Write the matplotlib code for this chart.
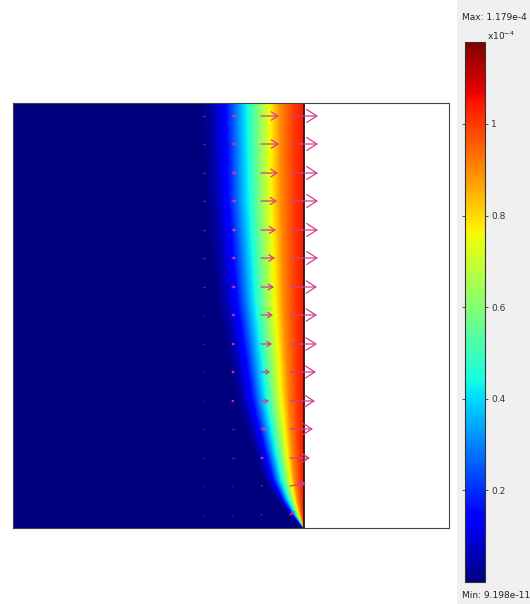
import numpy as np
import matplotlib
matplotlib.use('Agg')
import matplotlib.pyplot as plt
from matplotlib.patches import FancyArrowPatch, Rectangle
from matplotlib.colors import Normalize
from matplotlib.cm import ScalarMappable

# ---------------- data ----------------
c_min_label = "Min: 9.198e-11"
c_max_label = "Max: 1.179e-4"
c_scale_label = "x10$^{-4}$"
c_vmin = 9.198e-11 * 1e4
c_vmax = 1.179
cbar_ticks = [0.2, 0.4, 0.6, 0.8, 1.0]
cbar_ticklabels = ["0.2", "0.4", "0.6", "0.8", "1"]

# domain sizes (plot units)
domain_width = 291.0
box_width = 436.0
box_height = 425.0

# distance of the 0.45 contour from the right wall at several heights
front_height = [0, 13, 28, 48, 78, 128, 228, 328, 425]
front_dist = [0.5, 8, 15, 22, 28, 37, 48, 54, 56]

# concentration profile vs normalized wall distance
profile_eta = [0.0, 0.15, 0.42, 0.58, 1.0, 1.4, 1.65, 1.85, 10.0]
profile_c = [1.04, 1.01, 0.90, 0.78, 0.45, 0.15, 0.04, 0.0, 0.0]

# velocity arrows: columns (x of tail) and rows (height of tail)
arrow_cols = [190, 219, 248, 277]
arrow_rows = [412, 384, 355, 327, 298, 270, 241, 213, 184, 156, 127, 99, 70, 42, 13]
u_col0 = [1.5, 1.5, 1.5, 1.5, 1.5, 1.5, 1.5, 1.2, 1.2, 1.0, 1.0, 1.0, 0.8, 0.6, 0.5]
u_col1 = [5, 5, 5, 4.5, 4.5, 4, 4, 3.5, 3, 3, 2.5, 2, 1.5, 1, 0.8]
u_col2 = [18, 18, 17, 16, 15, 14, 13, 12, 11, 9, 8, 6, 3, 1.5, 1]
u_col3 = [28, 28, 28, 28, 28, 28, 27, 27, 27, 26, 25, 23, 20, 16, 5]
v_col0 = [0] * 15
v_col1 = [0] * 15
v_col2 = [0] * 13 + [0.5, 0.5]
v_col3 = [0] * 13 + [3, 4]
arrow_color = "#d63c8f"

# ---------------- figure ----------------
W, H = 530, 604
fig = plt.figure(figsize=(W / 100, H / 100), dpi=100)
fig.patches.append(Rectangle((457 / W, 0), 1 - 457 / W, 1, transform=fig.transFigure,
                             facecolor="#f0f0f0", edgecolor="none", zorder=-10))

ax = fig.add_axes([13 / W, 1 - 528 / H, 436 / W, 425 / H])
ax.set_xlim(0, box_width)
ax.set_ylim(0, box_height)

nx, ny = 600, 850
xs = np.linspace(0, domain_width, nx)
ys = np.linspace(0, box_height, ny)
X, Y = np.meshgrid(xs, ys)
delta = np.interp(Y, front_height, front_dist)
eta = (domain_width - X) / delta
C = np.interp(eta, profile_eta, profile_c)
ax.imshow(C, extent=[0, domain_width, 0, box_height], origin="lower", cmap="jet",
          vmin=c_vmin, vmax=c_vmax, aspect="auto", interpolation="bilinear")
ax.plot([domain_width, domain_width], [0, box_height], color="#2a1414", lw=1.3)

us = [u_col0, u_col1, u_col2, u_col3]
vs = [v_col0, v_col1, v_col2, v_col3]
for ci, x0 in enumerate(arrow_cols):
    for ri, y0 in enumerate(arrow_rows):
        u = us[ci][ri]
        v = vs[ci][ri]
        L = np.hypot(u, v)
        hl = 0.36 * L * 0.72
        hw = 0.23 * L * 0.72
        if L < 2.5:
            ax.plot([x0, x0 + max(u, 0.8)], [y0, y0 + v], color=arrow_color, lw=0.9,
                    alpha=0.7, solid_capstyle="butt")
            continue
        arr = FancyArrowPatch((x0, y0), (x0 + u, y0 + v),
                              arrowstyle=f"->,head_length={hl:.2f},head_width={hw:.2f}",
                              mutation_scale=1, lw=0.9, color=arrow_color,
                              shrinkA=0, shrinkB=0, clip_on=False, zorder=5)
        ax.add_patch(arr)

ax.set_xticks([])
ax.set_yticks([])
for s in ax.spines.values():
    s.set_color("#444444")
    s.set_linewidth(0.8)

# ---------------- colorbar ----------------
cax = fig.add_axes([465 / W, 1 - 582 / H, 20 / W, 540 / H])
sm = ScalarMappable(norm=Normalize(vmin=c_vmin, vmax=c_vmax), cmap="jet")
cb = fig.colorbar(sm, cax=cax, ticks=cbar_ticks)
cb.set_ticklabels(cbar_ticklabels)
cb.outline.set_edgecolor("#333333")
cb.outline.set_linewidth(0.8)
cax.tick_params(axis="y", left=True, right=True, direction="out", length=2.5,
                width=0.6, labelsize=6.5, pad=2, colors="#333333")

fig.text(462 / W, 1 - 17 / H, c_max_label, fontsize=6.5, ha="left", va="center", color="#222222")
fig.text(487 / W, 1 - 36 / H, c_scale_label, fontsize=6.5, ha="left", va="center", color="#222222")
fig.text(462 / W, 1 - 595 / H, c_min_label, fontsize=6.5, ha="left", va="center", color="#222222")

fig.savefig("out.png", dpi=100)
